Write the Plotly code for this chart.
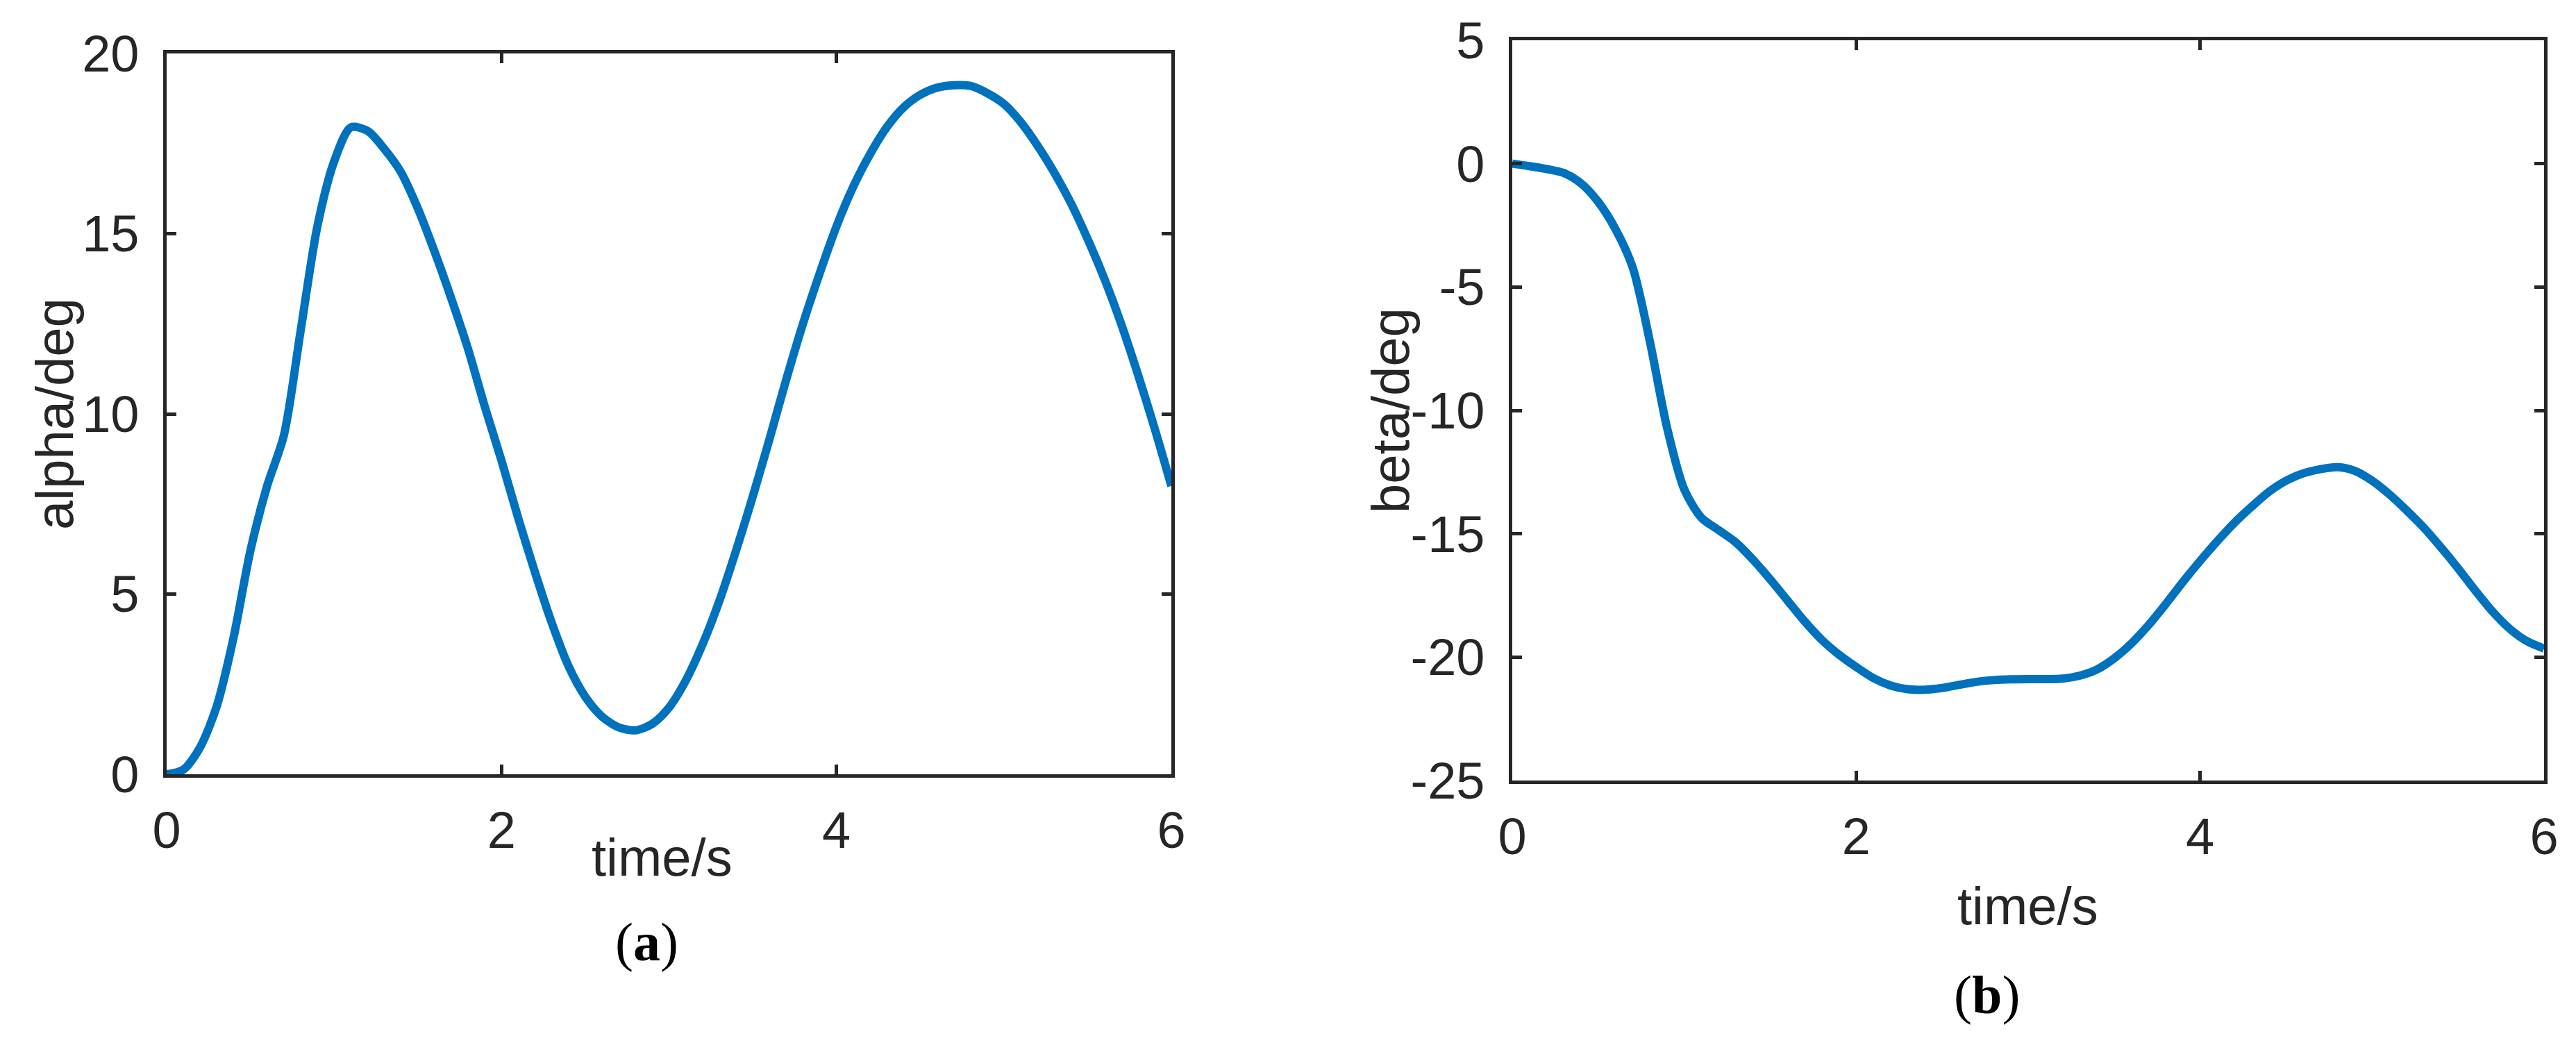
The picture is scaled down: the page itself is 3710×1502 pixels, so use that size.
import plotly.graph_objects as go

# ── Data ────────────────────────────────────────────────────────────
TIME = [round(0.1 * i, 1) for i in range(61)]

ALPHA = [
    0.0, 0.13, 0.75, 1.9, 3.8, 6.2, 8.0, 9.4, 12.3, 15.2,
    17.0, 17.95, 17.85, 17.35, 16.7, 15.7, 14.5, 13.2, 11.8, 10.2,
    8.7, 7.1, 5.6, 4.2, 3.0, 2.15, 1.6, 1.3, 1.22, 1.4,
    1.85, 2.6, 3.6, 4.8, 6.2, 7.7, 9.3, 10.95, 12.5, 13.9,
    15.2, 16.3, 17.2, 17.95, 18.5, 18.85, 19.05, 19.12, 19.1, 18.9,
    18.6, 18.1, 17.45, 16.7, 15.85, 14.85, 13.75, 12.5, 11.1, 9.6,
    8.0,
]

BETA = [
    0.0, -0.1, -0.22, -0.38, -0.8, -1.55, -2.65, -4.2, -7.2, -10.7,
    -13.2, -14.35, -14.85, -15.35, -16.05, -16.85, -17.7, -18.55, -19.3, -19.9,
    -20.4, -20.85, -21.15, -21.3, -21.32, -21.25, -21.12, -21.0, -20.93, -20.9,
    -20.89, -20.89, -20.87, -20.75, -20.5, -20.05, -19.45, -18.7, -17.85, -16.95,
    -16.1, -15.3, -14.55, -13.9, -13.3, -12.85, -12.55, -12.38, -12.3, -12.45,
    -12.85, -13.4, -14.05, -14.75, -15.55, -16.4, -17.3, -18.15, -18.85, -19.35,
    -19.65,
]

X_TICKS = [0, 2, 4, 6]
ALPHA_TICKS = [0, 5, 10, 15, 20]
BETA_TICKS = [5, 0, -5, -10, -15, -20, -25]

# ── Style ───────────────────────────────────────────────────────────
W, H = 3710, 1502
LINE_COLOR = "#0072BD"
AXIS_COLOR = "#262626"
FONT = "Liberation Sans, Arial, sans-serif"
TICK_SIZE = 74
TITLE_SIZE = 76


def px_x(x):
    return x / W


def px_y(y):
    return 1 - y / H


def axis_style(domain, rng, ticks, anchor, standoff):
    return dict(
        domain=domain,
        range=rng,
        tickvals=ticks,
        ticktext=[str(t) for t in ticks],  # plain hyphen minus like the original
        anchor=anchor,
        automargin=False,
        showline=True,
        linecolor=AXIS_COLOR,
        linewidth=4.5,
        mirror="ticks",
        ticks="inside",
        ticklen=14,
        tickwidth=4.5,
        tickcolor=AXIS_COLOR,
        showgrid=False,
        zeroline=False,
        tickfont=dict(family=FONT, size=TICK_SIZE, color=AXIS_COLOR),
        ticklabelstandoff=standoff,
    )


fig = go.Figure()
fig.add_trace(go.Scatter(
    x=TIME, y=ALPHA, mode="lines",
    line=dict(color=LINE_COLOR, width=12, shape="spline", smoothing=0.8),
    xaxis="x", yaxis="y", showlegend=False,
))
fig.add_trace(go.Scatter(
    x=TIME, y=BETA, mode="lines",
    line=dict(color=LINE_COLOR, width=12, shape="spline", smoothing=0.8),
    xaxis="x2", yaxis="y2", showlegend=False,
))

# axes boxes (pixel positions from the reference)
L_X0, L_X1, L_Y0, L_Y1 = 232, 1679, 69, 1107
R_X0, R_X1, R_Y0, R_Y1 = 2170, 3656, 50, 1116

fig.update_layout(
    template="none",
    width=W, height=H,
    margin=dict(l=0, r=0, t=0, b=0),
    paper_bgcolor="white",
    plot_bgcolor="white",
    xaxis=axis_style([px_x(L_X0), px_x(L_X1)], [0, 6], X_TICKS, "y", 12),
    yaxis=axis_style([px_y(L_Y1), px_y(L_Y0)], [0, 20], ALPHA_TICKS, "x", 20),
    xaxis2=axis_style([px_x(R_X0), px_x(R_X1)], [0, 6], X_TICKS, "y2", 12),
    yaxis2=axis_style([px_y(R_Y1), px_y(R_Y0)], [-25, 5], BETA_TICKS, "x2", 20),
)

title_font = dict(family=FONT, size=TITLE_SIZE, color=AXIS_COLOR)
label_font = dict(family="Liberation Serif, Times New Roman, serif", size=78, color="black")

annotations = [
    dict(text="alpha/deg", x=px_x(70), y=px_y((L_Y0 + L_Y1) / 2), textangle=-90, font=title_font),
    dict(text="time/s", x=px_x(945), y=px_y(1226), font=title_font),
    dict(text="(<b>a</b>)", x=px_x(923), y=px_y(1348), font=label_font),
    dict(text="beta/deg", x=px_x(1994), y=px_y((R_Y0 + R_Y1) / 2), textangle=-90, font=title_font),
    dict(text="time/s", x=px_x(2912), y=px_y(1296), font=title_font),
    dict(text="(<b>b</b>)", x=px_x(2853), y=px_y(1424), font=label_font),
]
for a in annotations:
    fig.add_annotation(xref="paper", yref="paper", showarrow=False,
                       xanchor="center", yanchor="middle", **a)

fig.write_html("out.html")
